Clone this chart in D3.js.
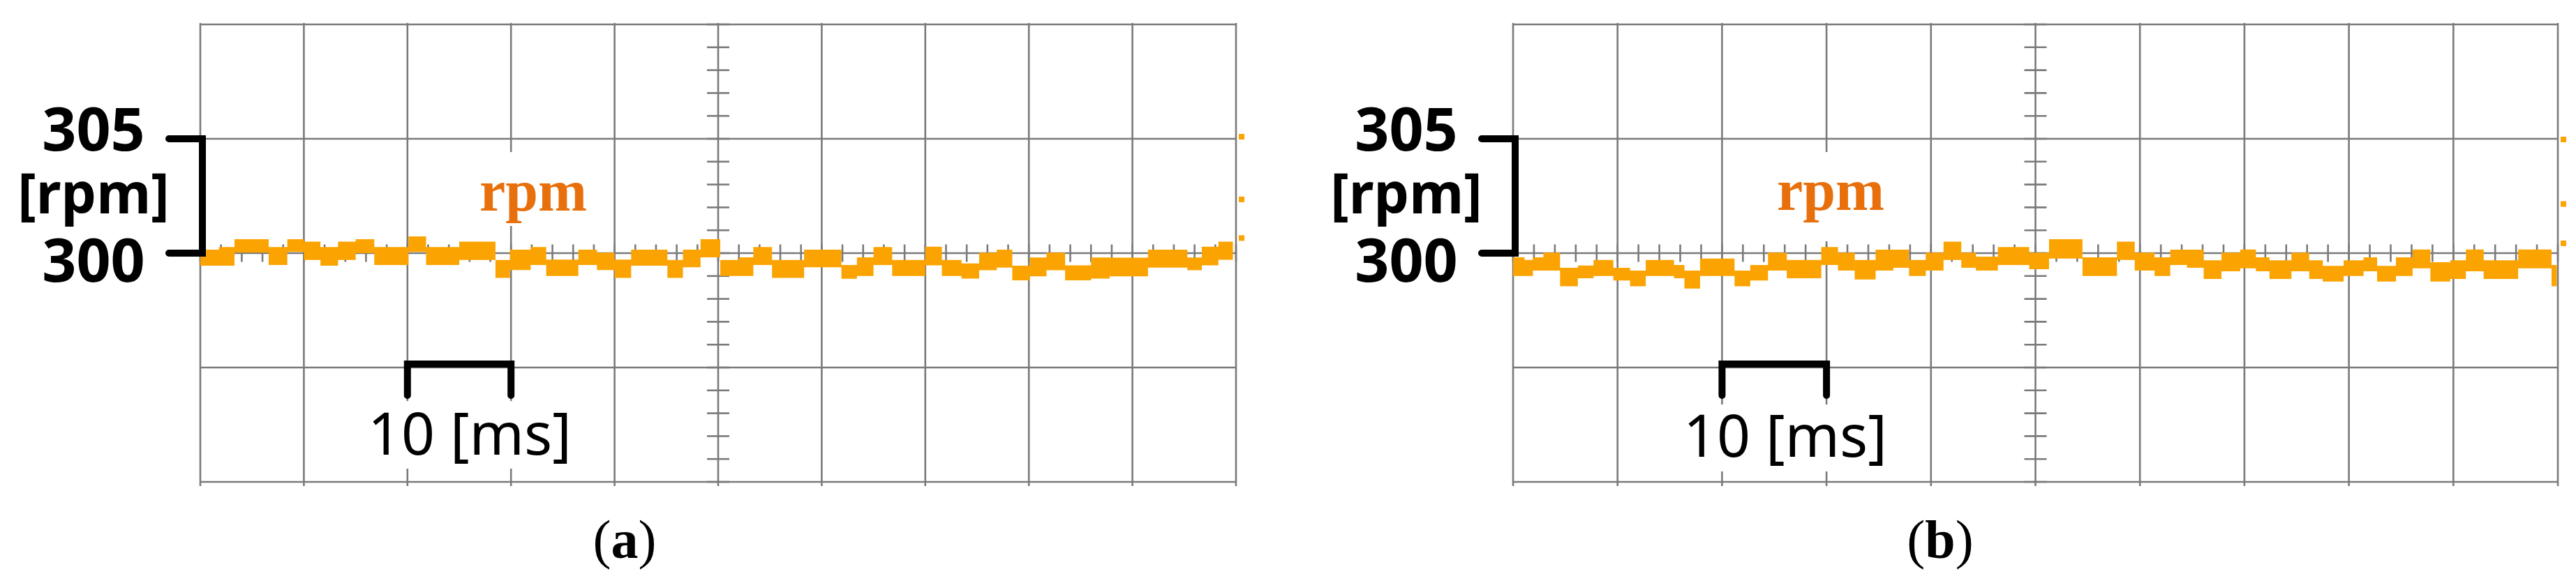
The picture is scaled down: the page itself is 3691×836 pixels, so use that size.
<!DOCTYPE html>
<html>
<head>
<meta charset="utf-8">
<script src="https://cdn.jsdelivr.net/npm/d3@7"></script>
<style>
  html, body { margin: 0; padding: 0; background: #fff; }
  svg { display: block; }
</style>
</head>
<body>
<div id="chart"></div>
<script>
// panel (a): start time of each step [ms], upper / lower edge of the trace band [rpm]
var tA  = [0, 1.8, 3.3, 6.6, 8.4, 10.0, 11.6, 13.3, 15.0, 16.8, 20.1, 21.8, 25.0, 28.5, 29.9, 31.9,
           33.4, 36.5, 38.3, 40.0, 41.6, 45.1, 46.6, 48.3, 50.2, 52.0, 53.4, 55.2, 58.3, 61.9, 63.4,
           65.0, 66.8, 70.0, 71.6, 73.5, 75.2, 76.9, 78.4, 80.1, 81.7, 83.5, 86.0, 87.8, 91.5, 95.3,
           96.7, 98.3];
var hiA = [300.15, 300.27, 300.61, 300.27, 300.61, 300.50, 300.27, 300.50, 300.61, 300.27, 300.73, 300.27, 300.50, 299.70, 300.15, 300.27,
           299.72, 300.15, 300.02, 299.72, 300.15, 299.70, 300.15, 300.61, 299.70, 299.82, 300.27, 299.70, 300.15, 299.48, 299.82,
           300.27, 299.70, 300.28, 299.70, 299.55, 300.02, 300.15, 299.45, 299.81, 300.02, 299.47, 299.81, 299.80, 300.15, 299.81,
           300.28, 300.50];
var loA = [299.45, 299.45, 300.02, 299.48, 300.05, 299.70, 299.45, 299.70, 300.00, 299.48, 300.05, 299.48, 299.70, 298.92, 299.26, 299.48,
           299.00, 299.48, 299.26, 298.92, 299.45, 298.92, 299.38, 299.82, 299.00, 299.00, 299.48, 298.92, 299.38, 298.88, 299.00,
           299.48, 299.00, 299.47, 299.00, 298.89, 299.25, 299.37, 298.81, 298.99, 299.25, 298.81, 298.89, 298.99, 299.37, 299.25,
           299.47, 299.71];
var endA = 99.7;

// panel (b)
var tB  = [0, 1.1, 1.9, 2.9, 4.5, 6.2, 7.7, 9.6, 11.2, 12.7, 15.4, 16.4, 17.9, 21.2, 22.7, 24.4, 26.2, 29.5, 31.1,
           32.7, 34.7, 36.4, 37.9, 39.5, 41.2, 42.9, 44.3, 46.4, 49.4, 51.3, 54.5, 57.8, 59.5, 61.4, 62.9,
           64.5, 66.1, 67.8, 69.6, 71.1, 72.4, 74.5, 76.2, 77.5, 79.5, 81.4, 82.7, 84.5, 86.1, 87.8, 89.7,
           91.2, 92.9, 96.2, 99.4];
var hiB = [299.82, 299.70, 299.82, 300.02, 299.36, 299.46, 299.70, 299.36, 299.24, 299.70, 299.48, 299.24, 299.76, 299.24, 299.48, 300.02, 299.70, 300.27, 300.02,
           299.70, 300.15, 300.15, 299.70, 300.02, 300.50, 300.02, 299.85, 300.27, 300.02, 300.61, 299.82, 300.50, 300.02, 299.82, 300.15,
           300.15, 299.69, 300.02, 300.16, 299.82, 299.69, 300.02, 299.69, 299.44, 299.69, 299.82, 299.44, 299.82, 300.16, 299.60, 299.69,
           300.16, 299.69, 300.16, 299.48];
var loB = [299.00, 299.00, 299.24, 299.24, 298.55, 298.90, 299.00, 298.80, 298.55, 299.00, 298.90, 298.45, 299.00, 298.55, 298.80, 299.24, 298.90, 299.48, 299.24,
           298.85, 299.24, 299.36, 299.00, 299.24, 299.70, 299.36, 299.24, 299.48, 299.30, 299.76, 299.00, 299.70, 299.24, 299.00, 299.48,
           299.36, 298.87, 299.21, 299.34, 299.21, 298.87, 299.21, 298.87, 298.76, 299.00, 299.21, 298.76, 299.00, 299.34, 298.76, 298.87,
           299.21, 298.87, 299.34, 298.55];
var endB = 99.9;

// level markers just outside the right edge [rpm]
var markA = [305.09, 302.35, 300.66];
var markB = [304.97, 302.15, 300.43];

var xTicks = d3.range(0, 101, 10);      // 10 ms per division
var yTicks = [290, 295, 300, 305, 310]; // 5 rpm per division
var xMinor = d3.range(0, 100.1, 2);
var yMinor = d3.range(290, 310.1, 1);
var sideLabels = ["305", "[rpm]", "300"];

var W = 3691, H = 836;
var gTop = 35, gBot = 691;   // note: "top" is taken by window.top
var gridCol = "#7a7a7a", traceCol = "#fba300", labelCol = "#e8700c";

var svg = d3.select("#chart").append("svg")
    .attr("width", W)
    .attr("height", H);

var panels = [
  {t: tA, hi: hiA, lo: loA, end: endA, marks: markA, left: 287, right: 1771,
   sideX: 134, rpmX: 764, rpmY: 302, msX: 673, msY: 652, cap: "a", capX: 895,
   rpmBox: [680, 218, 170, 106], msBox: [520, 575, 310, 97]},
  {t: tB, hi: hiB, lo: loB, end: endB, marks: markB, left: 2168, right: 3665,
   sideX: 2015, rpmX: 2623, rpmY: 301, msX: 2558, msY: 655, cap: "b", capX: 2780,
   rpmBox: [2535, 218, 177, 128], msBox: [2405, 580, 310, 96]}
];

panels.forEach(drawPanel);

function drawPanel(p) {
  var x = d3.scaleLinear().domain([0, 100]).range([p.left, p.right]);
  var y = d3.scaleLinear().domain([290, 310]).range([gBot, gTop]);
  var g = svg.append("g");

  // grid
  g.selectAll(".vgrid")
    .data(xTicks)
    .enter()
    .append("line")
    .attr("x1", function(d){ return x(d) })
    .attr("x2", function(d){ return x(d) })
    .attr("y1", gTop - 2)
    .attr("y2", gBot + 6)
    .attr("stroke", gridCol)
    .attr("stroke-width", 2.6);

  g.selectAll(".hgrid")
    .data(yTicks)
    .enter()
    .append("line")
    .attr("x1", x(0) - 1)
    .attr("x2", x(100) + 1)
    .attr("y1", function(d){ return y(d) })
    .attr("y2", function(d){ return y(d) })
    .attr("stroke", gridCol)
    .attr("stroke-width", 2.6);

  // minor ticks on the centre axes
  g.selectAll(".xminor")
    .data(xMinor)
    .enter()
    .append("line")
    .attr("x1", function(d){ return x(d) })
    .attr("x2", function(d){ return x(d) })
    .attr("y1", y(300) - 12.5)
    .attr("y2", y(300) + 12.5)
    .attr("stroke", gridCol)
    .attr("stroke-width", 2.6);

  g.selectAll(".yminor")
    .data(yMinor)
    .enter()
    .append("line")
    .attr("x1", x(50) - 16)
    .attr("x2", x(50) + 16)
    .attr("y1", function(d){ return y(d) })
    .attr("y2", function(d){ return y(d) })
    .attr("stroke", gridCol)
    .attr("stroke-width", 2.6);

  // white backgrounds behind the inner labels
  [p.rpmBox, p.msBox].forEach(function(b) {
    g.append("rect")
      .attr("x", b[0]).attr("y", b[1])
      .attr("width", b[2]).attr("height", b[3])
      .attr("fill", "#fff");
  });

  // trace band
  var rows = p.t.map(function(t, i){ return {t: t, hi: p.hi[i], lo: p.lo[i]} });
  rows.push({t: p.end, hi: p.hi[p.hi.length - 1], lo: p.lo[p.lo.length - 1]});

  var band = d3.area()
    .curve(d3.curveStepAfter)
    .x(function(d){ return x(d.t) })
    .y0(function(d){ return y(d.lo) })
    .y1(function(d){ return y(d.hi) });

  g.append("path")
    .datum(rows)
    .attr("d", band)
    .attr("fill", traceCol);

  // level markers
  g.selectAll(".mark")
    .data(p.marks)
    .enter()
    .append("rect")
    .attr("x", x(100) + 4)
    .attr("y", function(d){ return y(d) - 4 })
    .attr("width", 8)
    .attr("height", 8)
    .attr("fill", traceCol);

  // rpm scale bracket
  g.append("path")
    .attr("d", "M" + (p.left - 45) + "," + y(305) + "H" + (p.left + 3) + "V" + y(300) + "H" + (p.left - 45))
    .attr("fill", "none")
    .attr("stroke", "#000")
    .attr("stroke-width", 10)
    .attr("stroke-linecap", "round");

  g.selectAll(".side")
    .data(sideLabels)
    .enter()
    .append("text")
    .attr("x", p.sideX)
    .attr("y", function(d, i){ return [216, 306, 404][i] })
    .attr("text-anchor", "middle")
    .attr("font-family", "'Noto Sans', sans-serif")
    .attr("font-weight", "bold")
    .attr("font-size", function(d, i){ return i == 1 ? 80 : 86 })
    .attr("fill", "#000")
    .text(function(d){ return d });

  // 10 ms scale bar
  g.append("path")
    .attr("d", "M" + x(20) + "," + (y(295) + 40) + "V" + (y(295) - 5) + "H" + x(30) + "V" + (y(295) + 40))
    .attr("fill", "none")
    .attr("stroke", "#000")
    .attr("stroke-width", 10)
    .attr("stroke-linecap", "round");

  g.append("text")
    .attr("x", p.msX)
    .attr("y", p.msY)
    .attr("text-anchor", "middle")
    .attr("font-family", "'Noto Sans', sans-serif")
    .attr("font-size", 84)
    .attr("fill", "#000")
    .text("10 [ms]");

  g.append("text")
    .attr("x", p.rpmX)
    .attr("y", p.rpmY)
    .attr("text-anchor", "middle")
    .attr("font-family", "'Liberation Serif', serif")
    .attr("font-weight", "bold")
    .attr("font-size", 84)
    .attr("fill", labelCol)
    .text("rpm");

  var cap = g.append("text")
    .attr("x", p.capX)
    .attr("y", 800)
    .attr("text-anchor", "middle")
    .attr("font-family", "'Liberation Serif', serif")
    .attr("font-size", 78)
    .attr("fill", "#000");
  cap.append("tspan").text("(");
  cap.append("tspan").attr("font-weight", "bold").text(p.cap);
  cap.append("tspan").text(")");
}
</script>
</body>
</html>
